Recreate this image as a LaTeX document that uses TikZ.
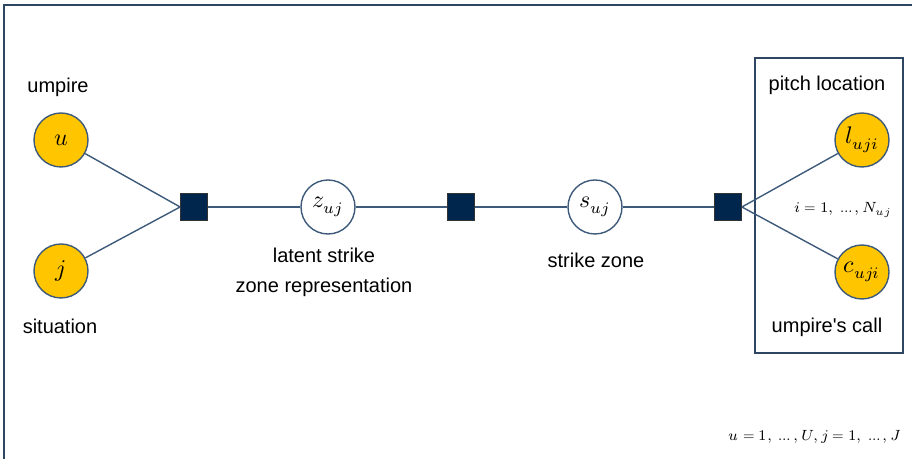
\documentclass[tikz,border=0pt]{standalone}
\usepackage{fontspec}
\setmainfont{Liberation Sans}
\usepackage{unicode-math}
\setmathfont{Latin Modern Math}
\definecolor{edgec}{HTML}{3E5A7A}
\definecolor{varfill}{HTML}{FFC600}
\definecolor{facfill}{HTML}{00264D}
\definecolor{framec}{HTML}{2E4662}
\begin{document}
\begin{tikzpicture}[x=0.5pt,y=-0.5pt,
  var/.style={circle,draw=edgec,line width=0.7pt,minimum size=27pt,inner sep=0pt,font=\fontsize{12}{14}\selectfont},
  obs/.style={var,fill=varfill},
  lat/.style={var,fill=white},
  fac/.style={rectangle,draw=black!80,fill=facfill,line width=0.4pt,minimum size=13.5pt,inner sep=0pt},
  lbl/.style={font=\fontsize{10}{12}\selectfont,inner sep=0pt,align=center},
  conn/.style={draw=edgec,line width=0.7pt},
  small/.style={font=\fontsize{7.4}{9}\selectfont,inner sep=0pt}]
\useasboundingbox (0,0) rectangle (912,459);
\draw[framec,line width=0.9pt] (4,459) -- (4,5) -- (912,5);
\node[draw=framec,line width=0.8pt,minimum width=74pt,minimum height=147.5pt,inner sep=0pt] (plate) at (829,205.5) {};
\node[obs] (u) at (61,140) {$u$};
\node[obs] (j) at (61,271) {$j$};
\node[fac] (f1) at (194,207) {};
\node[lat] (z) at (328,207) {$z_{uj}$};
\node[fac] (f2) at (461,207) {};
\node[lat] (s) at (595,207) {$s_{uj}$};
\node[fac] (f3) at (728,207) {};
\node[obs] (l) at (862,140) {$l_{uji}$};
\node[obs] (c) at (862,272) {$c_{uji}$};
\draw[conn] (u) -- (f1.west);
\draw[conn] (j) -- (f1.west);
\draw[conn] (f1) -- (z);
\draw[conn] (z) -- (f2);
\draw[conn] (f2) -- (s);
\draw[conn] (s) -- (f3);
\draw[conn] (f3.east) -- (l);
\draw[conn] (f3.east) -- (c);
\node[lbl] (tu) at (58,87) {umpire};
\node[lbl] (tj) at (60,326) {situation};
\node[lbl] (tz) at (324,272) {latent strike\\[3pt]zone representation};
\node[lbl] (ts) at (596,260) {strike zone};
\node[lbl] (tl) at (827,85) {pitch location};
\node[lbl] (tc) at (827,327) {umpire\textquotesingle s call};
\node[small] (ti) at (843,210) {$i=1,\;\dots,N_{uj}$};
\node[small] (tb) at (815,437) {$u=1,\;\dots,U, j=1,\;\dots,J$};
\end{tikzpicture}
\end{document}
